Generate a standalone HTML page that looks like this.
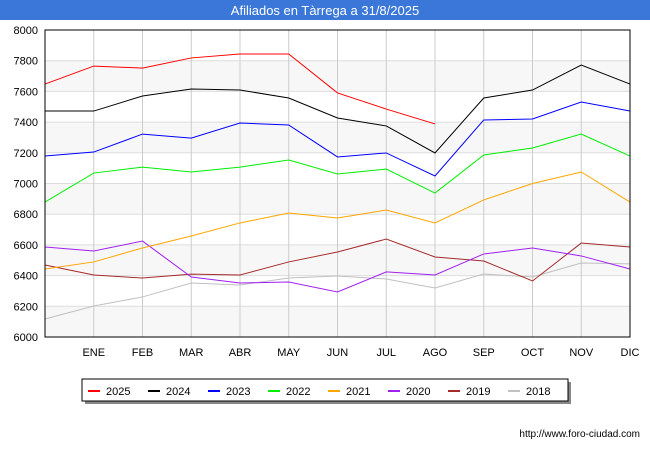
<!DOCTYPE html>
<html><head><meta charset="utf-8"><style>
body{margin:0;background:#fff;font-family:"Liberation Sans",sans-serif}
</style></head><body>
<svg width="650" height="450" viewBox="0 0 650 450" xmlns="http://www.w3.org/2000/svg" font-family="Liberation Sans, sans-serif">
<rect x="0" y="0" width="650" height="20" fill="#3a77d9"/>
<text x="325" y="15" text-anchor="middle" font-size="13" fill="#fff">Afiliados en Tàrrega a 31/8/2025</text>
<g id="bands"></g><g id="grid"></g><g id="series"></g>
<rect x="45" y="30" width="585" height="307" fill="none" stroke="#000" stroke-width="1"/>
<g id="yt" font-size="11" fill="#000"></g><g id="xt" font-size="11" fill="#000"></g>
<rect x="85" y="382" width="486" height="22" fill="#888"/>
<rect x="82" y="379" width="486" height="22" fill="#fff" stroke="#000"/>
<g id="leg" font-size="11"></g>
<text x="640" y="437" text-anchor="end" font-size="10">http://www.foro-ciudad.com</text>
</svg>
<script>
const years=["2025","2024","2023","2022","2021","2020","2019","2018"];
const colors=["#ff0000","#000000","#0000ff","#00ee00","#ffa500","#a020f0","#a52a2a","#c0c0c0"];
const months=["","ENE","FEB","MAR","ABR","MAY","JUN","JUL","AGO","SEP","OCT","NOV","DIC"];
const yTicks=[6000,6200,6400,6600,6800,7000,7200,7400,7600,7800,8000];
const s2025=[7648,7765,7752,7818,7844,7844,7590,7485,7388];
const s2024=[7472,7472,7570,7616,7609,7557,7427,7375,7199,7557,7609,7772,7648];
const s2023=[7179,7205,7322,7296,7394,7381,7173,7199,7049,7414,7420,7531,7472];
const s2022=[6879,7068,7107,7075,7107,7153,7062,7094,6938,7186,7231,7322,7179];
const s2021=[6443,6489,6580,6658,6743,6808,6775,6827,6743,6893,7000,7075,6879];
const s2020=[6586,6560,6625,6391,6352,6358,6293,6424,6404,6541,6580,6528,6443];
const s2019=[6469,6404,6384,6410,6404,6489,6554,6638,6521,6495,6365,6612,6586];
const s2018=[6117,6202,6261,6352,6339,6384,6397,6378,6319,6410,6391,6482,6476];
const series=[s2025,s2024,s2023,s2022,s2021,s2020,s2019,s2018];
const NS="http://www.w3.org/2000/svg";
const X=i=>45+i*585/12, Y=v=>337-(v-6000)*307/2000;
function mk(t,a,p){const e=document.createElementNS(NS,t);for(const k in a)e.setAttribute(k,a[k]);document.getElementById(p).appendChild(e);return e;}
for(let v=6000;v<8000;v+=400){const e=mk("rect",{x:45,y:Y(v+200),width:585,height:Y(v)-Y(v+200),fill:"#f7f7f7"},"bands");

}
yTicks.forEach(v=>{const l=mk("line",{x1:45,x2:630,y1:Y(v),y2:Y(v),stroke:"#dddddd"},"grid");


const t=mk("text",{x:38,y:Y(v)+4,"text-anchor":"end"},"yt");t.textContent=v;

});
months.forEach((m,i)=>{const l=mk("line",{x1:X(i),x2:X(i),y1:30,y2:337,stroke:"#cccccc"},"grid");


if(m){const t=mk("text",{x:X(i),y:356,"text-anchor":"middle"},"xt");t.textContent=m;

}});
for(let k=series.length-1;k>=0;k--){const p=series[k].map((v,i)=>X(i)+","+Y(v)).join(" ");
const e=mk("polyline",{points:p,fill:"none",stroke:colors[k],"stroke-width":1},"series");

}
years.forEach((y,k)=>{const x0=88+k*60;
const l=mk("line",{x1:x0,x2:x0+12,y1:391,y2:391,stroke:colors[k],"stroke-width":2},"leg");


const t=mk("text",{x:x0+18,y:395},"leg");t.textContent=y;

});
</script>
</body></html>
